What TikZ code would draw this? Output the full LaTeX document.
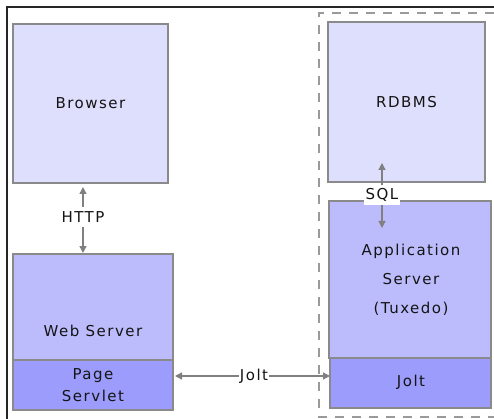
\documentclass[tikz,border=0pt]{standalone}
\usepackage{fontspec}
\setmainfont[LetterSpace=10]{DejaVu Sans}
\usetikzlibrary{arrows.meta}
\definecolor{boxlight}{HTML}{DEDEFD}
\definecolor{boxmid}{HTML}{BCBCFC}
\definecolor{boxdark}{HTML}{9C9CFC}
\definecolor{edge}{HTML}{8A8A8A}
\definecolor{arrgray}{HTML}{808080}
\definecolor{dashgray}{HTML}{9A9A9A}
\definecolor{txt}{HTML}{141414}
\tikzset{
  box/.style={draw=edge, line width=1.5pt, inner sep=0pt, rectangle},
  txtnode/.style={text=txt, font={\fontsize{15}{29}\selectfont}, align=center, inner sep=0pt},
  lbl/.style={fill=white, text=txt, font={\fontsize{15}{18}\selectfont}, inner sep=2pt},
  conn/.style={draw=arrgray, line width=1.3pt, {Triangle[length=7pt,width=7pt]}-{Triangle[length=7pt,width=7pt]}},
  frameline/.style={draw=black!85, line width=2pt},
  dashline/.style={draw=dashgray, line width=1.5pt, dash pattern=on 9pt off 8pt}
}
\begin{document}
\begin{tikzpicture}[x=1pt,y=-1pt]
\useasboundingbox (0,0) rectangle (494,419);
% outer frame
\draw[frameline] (7,419) -- (7,7) -- (494,7);
% dashed region
\draw[dashline] (494,13) -- (319,13) -- (319,417) -- (494,417);
% boxes
\node[box, fill=boxlight, minimum width=155pt, minimum height=159pt] (browser) at (90.5,103.5) {};
\node[txtnode] (browsertxt) at (browser.center) {Browser};
\node[box, fill=boxlight, minimum width=157pt, minimum height=160pt] (rdbms) at (406.5,102) {};
\node[txtnode] (rdbmstxt) at (rdbms.center) {RDBMS};
\node[box, fill=boxmid, minimum width=160pt, minimum height=106pt] (web) at (93,307) {};
\node[txtnode] (webtxt) at (93,331) {Web Server};
\node[box, fill=boxdark, minimum width=160pt, minimum height=50pt] (servlet) at (93,385) {};
\node[txtnode, font={\fontsize{15}{22}\selectfont}] (servlettxt) at (servlet.center) {Page\\Servlet};
\node[box, fill=boxmid, minimum width=162pt, minimum height=157pt] (app) at (410,279.5) {};
\node[txtnode] (apptxt) at (411,279.5) {Application\\Server\\(Tuxedo)};
\node[box, fill=boxdark, minimum width=161pt, minimum height=50pt] (jolt) at (410.5,383) {};
\node[txtnode] (jolttxt) at (411,382) {Jolt};
% connector end points
\coordinate (h1) at (83,187);
\coordinate (h2) at (83,253);
\coordinate (s1) at (382,163);
\coordinate (s2) at (382,228);
\coordinate (j1) at (175,376);
\coordinate (j2) at (330,376);
% connectors
\draw[conn] (h1) -- (h2);
\node[lbl, inner ysep=5pt] (httplbl) at (83,217) {HTTP};
\draw[conn] (s1) -- (s2);
\node[lbl, inner ysep=3pt] (sqllbl) at (382,195) {SQL};
\draw[conn] (j1) -- (j2);
\node[lbl, inner xsep=1pt] (joltlbl) at (254,376) {Jolt};
\end{tikzpicture}
\end{document}
